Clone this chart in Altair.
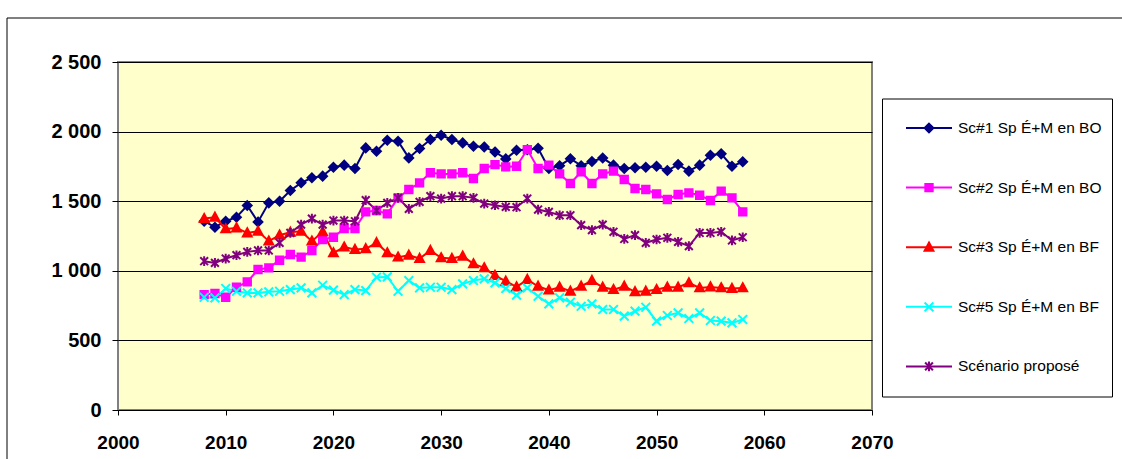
import altair as alt
import pandas as pd

# ---- data -----------------------------------------------------------------
years = list(range(2008, 2059))

names = [
    "Sc#1 Sp É+M en BO",
    "Sc#2 Sp É+M en BO",
    "Sc#3 Sp É+M en BF",
    "Sc#5 Sp É+M en BF",
    "Scénario proposé",
]

sc1 = [1356, 1313, 1356, 1385, 1469, 1351, 1488, 1500, 1577, 1632, 1668, 1680, 1744,
       1759, 1735, 1883, 1859, 1938, 1931, 1811, 1878, 1943, 1974, 1943, 1919, 1895,
       1890, 1854, 1804, 1866, 1870, 1880, 1735, 1755, 1805, 1755, 1785, 1810,
       1759, 1735, 1740, 1744, 1751, 1720, 1763, 1716, 1759, 1830, 1840, 1751, 1783]

sc2 = [829, 837, 810, 882, 920, 1009, 1021, 1076, 1117, 1098, 1146, 1225, 1241,
       1304, 1304, 1423, 1433, 1409, 1524, 1584, 1632, 1704, 1696, 1696, 1704, 1663,
       1735, 1763, 1747, 1751, 1871, 1735, 1759, 1696, 1627, 1711, 1627, 1696,
       1716, 1656, 1591, 1584, 1553, 1512, 1548, 1560, 1543, 1505, 1572, 1524, 1423]

sc3 = [1375, 1385, 1301, 1308, 1272, 1284, 1213, 1256, 1277, 1284, 1213, 1280, 1129,
       1170, 1153, 1158, 1201, 1129, 1098, 1112, 1088, 1146, 1093, 1088, 1105, 1050,
       1021, 966, 925, 884, 937, 889, 861, 882, 853, 889, 930, 882,
       865, 889, 849, 853, 865, 882, 882, 913, 877, 884, 877, 873, 877]

sc5 = [810, 805, 873, 853, 841, 841, 849, 853, 865, 877, 841, 896, 861,
       829, 865, 858, 954, 956, 853, 930, 877, 882, 882, 865, 906, 930,
       942, 913, 873, 825, 877, 817, 762, 805, 774, 745, 762, 722,
       722, 674, 710, 738, 638, 679, 698, 657, 698, 643, 638, 626, 650]

propose = [1069, 1057, 1088, 1112, 1136, 1146, 1146, 1201, 1272, 1332, 1375, 1332, 1361,
           1361, 1356, 1507, 1433, 1488, 1524, 1445, 1495, 1536, 1519, 1536, 1536, 1524,
           1483, 1471, 1459, 1457, 1519, 1440, 1423, 1399, 1399, 1328, 1292, 1332,
           1280, 1229, 1256, 1201, 1225, 1237, 1208, 1177, 1272, 1272, 1280, 1218, 1241]

series = [sc1, sc2, sc3, sc5, propose]

x_ticks = [2000, 2010, 2020, 2030, 2040, 2050, 2060, 2070]
y_ticks = [0, 500, 1000, 1500, 2000, 2500]

# ---- styling --------------------------------------------------------------
colors = ["#000080", "#FF00FF", "#FF0000", "#00FFFF", "#800080"]

# marker outlines in the unit symbol space (scaled by the point size)
marker_paths = [
    "M0,-0.19L0.19,0L0,0.19L-0.19,0Z",                         # diamond
    "M-0.16,-0.16H0.16V0.16H-0.16Z",                           # square
    "M0,-0.2L0.19,0.15H-0.19Z",                                # triangle
    "M-0.19,-0.19L0.19,0.19M-0.19,0.19L0.19,-0.19",            # x
    "M-0.17,-0.17L0.17,0.17M-0.17,0.17L0.17,-0.17M0,-0.21V0.21", # asterisk
]

FONT = "Arial"
PW, PH = 754, 348
LEFT, TOP = 118, 62
SYM = 2116  # 46 px wide legend line

rows = []
for name, vals in zip(names, series):
    for yr, v in zip(years, vals):
        rows.append({"annee": yr, "valeur": v, "serie": name, "marque": name})
df = pd.DataFrame(rows)

x_enc = alt.X(
    "annee:Q",
    scale=alt.Scale(domain=[2000, 2070], nice=False, zero=False),
    axis=alt.Axis(
        values=x_ticks, format="d", title=None, grid=False, domain=False,
        ticks=True, tickSize=5, tickColor="#000000",
        labelFont=FONT, labelFontSize=19, labelFontWeight="bold",
        labelColor="#000000", labelPadding=18, labelFlush=False,
    ),
)
y_enc = alt.Y(
    "valeur:Q",
    scale=alt.Scale(domain=[0, 2500], nice=False),
    axis=alt.Axis(
        values=y_ticks, title=None, domain=False,
        labelExpr="replace(format(datum.value, ','), ',', ' ')",
        grid=True, gridColor="#000000", gridWidth=1,
        ticks=True, tickSize=6, tickColor="#000000",
        labelFont=FONT, labelFontSize=20, labelFontWeight="bold",
        labelColor="#000000", labelPadding=11,
    ),
)

legend_common = dict(
    title=None, orient="none", legendX=764, legendY=36.5, direction="vertical",
    symbolSize=SYM, symbolStrokeWidth=2, symbolOffset=13, labelOffset=5,
    clipHeight=39, rowPadding=20.6, padding=10,
    labelFont=FONT, labelFontSize=15.5, labelColor="#000000", labelLimit=300,
)

line_legend = alt.Legend(symbolType="stroke", strokeColor="#000000", **legend_common)
marker_legend = alt.Legend(labelOpacity=0, **legend_common)

frame = alt.Chart(pd.DataFrame({"k": [0]})).mark_rect(
    filled=False, stroke="#000000", strokeWidth=1
).encode(
    x=alt.value(-111), x2=alt.value(1122 - LEFT + 10),
    y=alt.value(-44), y2=alt.value(459 - TOP + 10),
)

lines = alt.Chart(df).mark_line(strokeWidth=2).encode(
    x=x_enc, y=y_enc,
    color=alt.Color("serie:N", scale=alt.Scale(range=colors), legend=line_legend),
)

points = alt.Chart(df).mark_point(
    filled=True, opacity=1, size=SYM, strokeWidth=2
).encode(
    x=x_enc, y=y_enc,
    fill=alt.Fill("marque:N", scale=alt.Scale(range=colors), legend=marker_legend),
    stroke=alt.Stroke("marque:N", scale=alt.Scale(range=colors), legend=marker_legend),
    shape=alt.Shape("marque:N", scale=alt.Scale(range=marker_paths), legend=marker_legend),
)

chart = alt.layer(frame, lines, points).properties(
    width=PW, height=PH,
    padding={"left": LEFT, "top": TOP, "right": 1122 - LEFT - PW, "bottom": 459 - TOP - PH},
    autosize=alt.AutoSizeParams(type="none"),
    background="#FFFFFF",
).configure_view(
    fill="#FFFFCC", stroke="#808080", strokeWidth=2,
)

chart.save("out.html", embed_options={"renderer": "svg", "actions": False})
